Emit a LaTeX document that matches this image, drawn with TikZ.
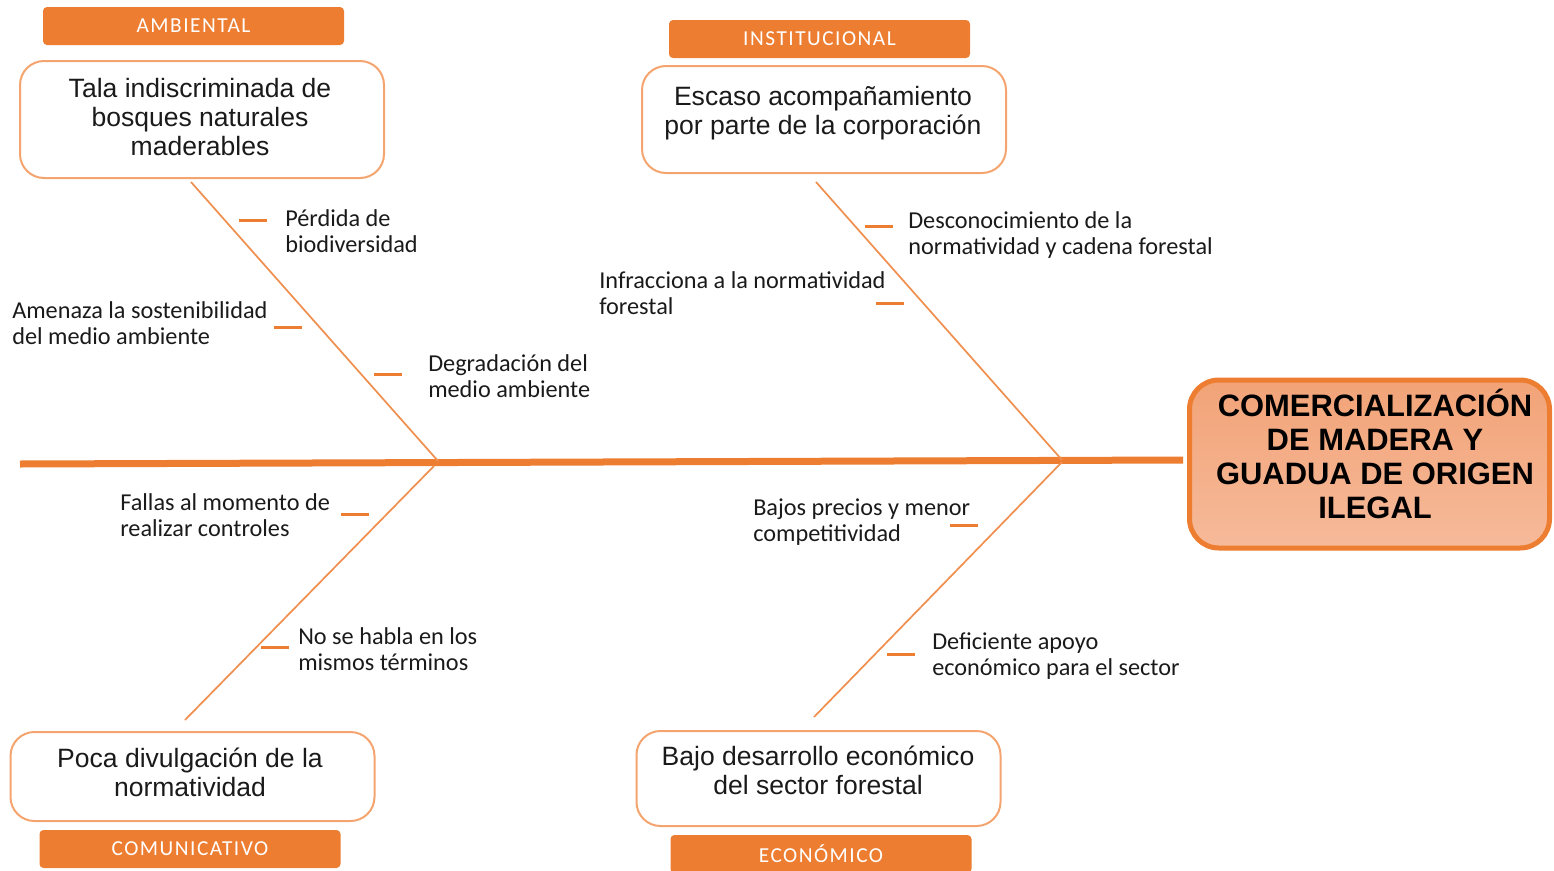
\documentclass[tikz,border=0pt]{standalone}
\usepackage{fontspec}
\setmainfont{Liberation Sans}
\newfontfamily\calib{Carlito}
\newfontfamily\calibsp[LetterSpace=7]{Carlito}
\definecolor{orng}{HTML}{ED7D31}
\definecolor{bord}{HTML}{F4A46E}
\definecolor{peachtop}{HTML}{F2A377}
\definecolor{peachbot}{HTML}{F6BA9A}
\definecolor{txt}{HTML}{1A1A1A}
\begin{document}
\begin{tikzpicture}[x=0.75pt,y=-0.75pt,
  cat/.style={fill=orng, rounded corners=3pt, minimum width=225.75pt, minimum height=28.5pt,
    text=white, font=\calibsp\fontsize{16}{18}\selectfont, inner sep=0pt},
  causebox/.style={draw=bord, line width=1.5pt, rounded corners=18pt, minimum width=273pt, inner sep=0pt},
  boxtext/.style={font=\fontsize{19.9}{21.75}\selectfont, align=center, text=txt, inner sep=0pt, anchor=base},
  lbl/.style={font=\calib\fontsize{18.2}{19.5}\selectfont, align=left, inner sep=0pt, anchor=base west, text=txt},
  bone/.style={draw=orng!85, line width=1.3pt},
  tickmark/.style={draw=orng, line width=2.25pt},
  spine/.style={draw=orng, line width=5.25pt}
]
\useasboundingbox (0,0) rectangle (1554,871);

% category labels
\node[cat] (catA) at (193.5,26) {AMBIENTAL};
\node[cat] (catI) at (819.5,39) {INSTITUCIONAL};
\node[cat] (catC) at (190,849) {COMUNICATIVO};
\node[cat] (catE) at (821,854) {ECONÓMICO};

% cause boxes
\node[causebox, minimum height=87.75pt] (b1) at (202,119.5) {};
\node[boxtext] (b1t) at (200,155.5) {Tala indiscriminada de\\bosques naturales\\maderables};
\node[causebox, minimum height=80.25pt] (b2) at (824,119.5) {};
\node[boxtext] (b2t) at (823,134.5) {Escaso acompañamiento\\por parte de la corporación};
\node[causebox, minimum height=66.75pt] (b3) at (192.5,776.5) {};
\node[boxtext] (b3t) at (190,796.5) {Poca divulgación de la\\normatividad};
\node[causebox, minimum height=71.25pt] (b4) at (818.5,778.5) {};
\node[boxtext] (b4t) at (818,794.5) {Bajo desarrollo económico\\del sector forestal};

% effect box
\node[draw=orng, line width=3.75pt, rounded corners=22pt, top color=peachtop, bottom color=peachbot,
  minimum width=270pt, minimum height=126pt, inner sep=0pt] (eff) at (1369.5,464) {};
\node[font=\bfseries\fontsize{23.2}{25.5}\selectfont, align=center, text=black, inner sep=0pt, anchor=base]
  (efft) at (1375,518) {COMERCIALIZACIÓN\\DE MADERA Y\\GUADUA DE ORIGEN\\ILEGAL};

% spine
\coordinate (sp0) at (20,464);
\coordinate (sp1) at (1183,460);
\draw[spine] (sp0) -- (sp1);

% bones
\coordinate (t1a) at (191,182);  \coordinate (t1b) at (438,461);
\coordinate (t2a) at (816,182);  \coordinate (t2b) at (1062,460);
\coordinate (t3a) at (434,466);  \coordinate (t3b) at (185,720);
\coordinate (t4a) at (1062,462); \coordinate (t4b) at (814,717);
\draw[bone] (t1a) -- (t1b);
\draw[bone] (t2a) -- (t2b);
\draw[bone] (t3a) -- (t3b);
\draw[bone] (t4a) -- (t4b);

% ticks
\draw[tickmark] (239,220) -- ++(28,0);
\draw[tickmark] (274,327) -- ++(28,0);
\draw[tickmark] (374,374) -- ++(28,0);
\draw[tickmark] (865,226) -- ++(28,0);
\draw[tickmark] (876,303) -- ++(28,0);
\draw[tickmark] (341,514) -- ++(28,0);
\draw[tickmark] (950,525) -- ++(28,0);
\draw[tickmark] (261,647) -- ++(28,0);
\draw[tickmark] (887,654) -- ++(28,0);

% sub-cause labels (anchored at baseline of last line)
\node[lbl] (l1) at (285,252) {Pérdida de\\biodiversidad};
\node[lbl] (l2) at (12,344) {Amenaza la sostenibilidad\\del medio ambiente};
\node[lbl] (l3) at (428,397) {Degradación del\\medio ambiente};
\node[lbl] (l4) at (908,254) {Desconocimiento de la\\normatividad y cadena forestal};
\node[lbl] (l5) at (599,314) {Infracciona a la normatividad\\forestal};
\node[lbl] (l6) at (120,536) {Fallas al momento de\\realizar controles};
\node[lbl] (l7) at (753,541) {Bajos precios y menor\\competitividad};
\node[lbl] (l8) at (298,670) {No se habla en los\\mismos términos};
\node[lbl] (l9) at (932,675) {Deficiente apoyo\\económico para el sector};
\end{tikzpicture}
\end{document}
